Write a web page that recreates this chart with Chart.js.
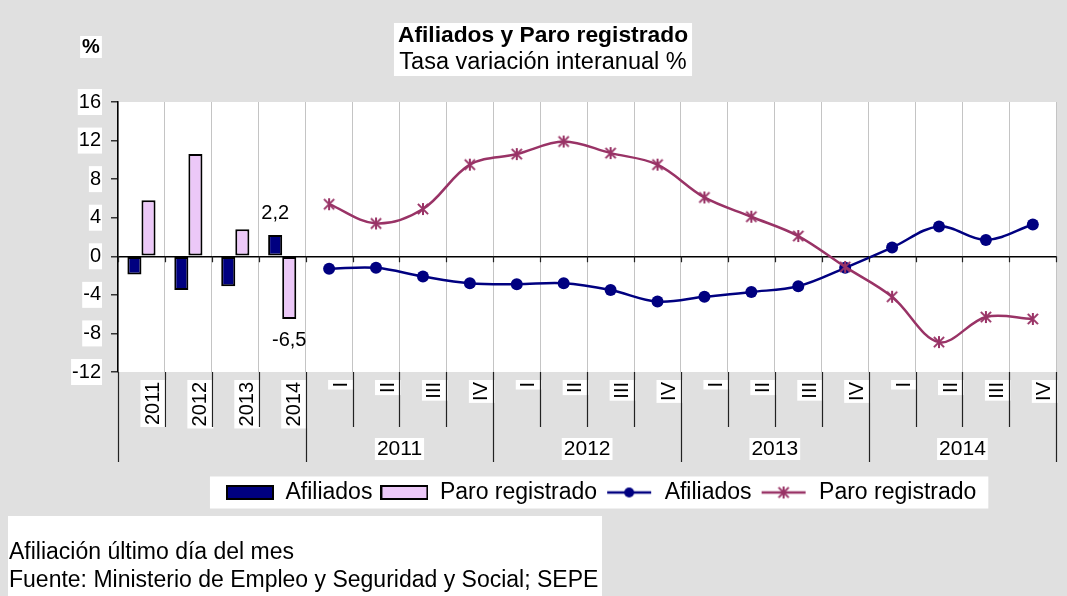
<!DOCTYPE html>
<html>
<head>
<meta charset="utf-8">
<script src="https://cdn.jsdelivr.net/npm/chart.js@4.4.0/dist/chart.umd.min.js"></script>
<style>
  html, body { margin: 0; padding: 0; background: #e0e0e0; }
  #wrap { width: 1067px; height: 596px; }
</style>
</head>
<body>
<div id="wrap"><canvas id="myChart" width="1067" height="596"></canvas></div>
<script>
// annual columns then the quarters of each year
const categories = ['2011', '2012', '2013', '2014',
  'I', 'II', 'III', 'IV', 'I', 'II', 'III', 'IV',
  'I', 'II', 'III', 'IV', 'I', 'II', 'III', 'IV'];
const quarterYears = ['2011', '2012', '2013', '2014'];

const annualAfiliados = [-1.9, -3.5, -3.1, 2.2];
const annualParo = [5.8, 10.6, 2.8, -6.5];

const quarterAfiliados = [-1.3, -1.2, -2.1, -2.8, -2.9, -2.8, -3.5, -4.7,
  -4.2, -3.7, -3.1, -1.2, 0.9, 3.1, 1.7, 3.3];
const quarterParo = [5.4, 3.4, 4.9, 9.5, 10.6, 11.9, 10.7, 9.5,
  6.1, 4.1, 2.1, -1.1, -4.2, -8.9, -6.3, -6.5];

const NAVY = '#000080';
const LILAC = '#ecc8f8';
const PLUM = '#993366';
const FONT = "'Liberation Sans', Arial, sans-serif";
Chart.defaults.font.family = FONT;
Chart.defaults.color = '#000';

const nAnnual = annualAfiliados.length;
const nQuarter = quarterAfiliados.length;
const pad = n => Array(n).fill(null);

// marker: asterisk (x plus vertical bar)
function starMarker(color, r) {
  const c = document.createElement('canvas');
  const s = Math.ceil(2 * r + 4);
  c.width = s; c.height = s;
  const g = c.getContext('2d');
  const m = s / 2, d = r * 0.85;
  g.strokeStyle = color; g.lineWidth = 2;
  g.beginPath();
  g.moveTo(m - d, m - d); g.lineTo(m + d, m + d);
  g.moveTo(m + d, m - d); g.lineTo(m - d, m + d);
  g.moveTo(m, m - r); g.lineTo(m, m + r);
  g.stroke();
  return c;
}

function boxIcon(fill) {
  const c = document.createElement('canvas');
  c.width = 48; c.height = 15;
  const g = c.getContext('2d');
  g.fillStyle = fill; g.fillRect(1, 1, 46, 13);
  g.strokeStyle = '#000'; g.lineWidth = 2; g.strokeRect(1, 1, 46, 13);
  return c;
}

function lineIcon(color, marker) {
  const c = document.createElement('canvas');
  c.width = 48; c.height = 16;
  const g = c.getContext('2d');
  g.strokeStyle = color; g.lineWidth = 2.5;
  g.beginPath(); g.moveTo(2, 8); g.lineTo(46, 8); g.stroke();
  if (marker === 'circle') {
    g.fillStyle = color;
    g.beginPath(); g.arc(24, 8, 5, 0, Math.PI * 2); g.fill();
  } else {
    g.drawImage(marker, 24 - marker.width / 2, 8 - marker.height / 2);
  }
  return c;
}

const star = starMarker(PLUM, 6);
const legendIcons = [boxIcon(NAVY), boxIcon(LILAC), lineIcon(NAVY, 'circle'), lineIcon(PLUM, star)];

function textBox(ctx, text, x, y, font, align) {
  ctx.font = font;
  ctx.textBaseline = 'middle';
  ctx.textAlign = align || 'center';
  const w = ctx.measureText(text).width;
  const left = align === 'left' ? x : x - w / 2;
  ctx.fillStyle = '#fff';
  ctx.fillRect(left - 2, y - 11, w + 4, 22);
  ctx.fillStyle = '#000';
  ctx.fillText(text, x, y);
}

const decor = {
  id: 'decor',
  afterLayout(chart) {
    chart.legend.left += 14;
    chart.legend.right += 14;
  },
  beforeDraw(chart) {
    const ctx = chart.ctx, a = chart.chartArea;
    ctx.save();
    ctx.fillStyle = '#fff';
    ctx.fillRect(a.left, a.top, a.right - a.left, a.bottom - a.top);

    // title block
    const tFont = 'bold 22.8px ' + FONT, sFont = '23.5px ' + FONT;
    ctx.font = tFont;
    const w1 = ctx.measureText('Afiliados y Paro registrado').width;
    ctx.font = sFont;
    const w2 = ctx.measureText('Tasa variación interanual %').width;
    const bw = Math.max(w1, w2) + 8;
    ctx.fillStyle = '#fff';
    ctx.fillRect(543 - bw / 2, 23, bw, 53);
    ctx.fillStyle = '#000';
    ctx.textAlign = 'center'; ctx.textBaseline = 'middle';
    ctx.font = tFont;
    ctx.fillText('Afiliados y Paro registrado', 543, 36);
    ctx.font = sFont;
    ctx.fillText('Tasa variación interanual %', 543, 63);

    textBox(ctx, '%', 91, 47, 'bold 20px ' + FONT);

    // legend background
    const hb = chart.legend.legendHitBoxes;
    if (hb && hb.length) {
      const l = Math.min(...hb.map(h => h.left)) - 16;
      const r = Math.max(...hb.map(h => h.left + h.width)) + 12;
      const cy = hb[0].top + hb[0].height / 2;
      ctx.fillStyle = '#fff';
      ctx.fillRect(l, cy - 16, r - l, 32);
    }

    // footnote
    ctx.fillStyle = '#fff';
    ctx.fillRect(8, 516, 594, 80);
    ctx.fillStyle = '#000';
    ctx.font = '23px ' + FONT;
    ctx.textAlign = 'left'; ctx.textBaseline = 'middle';
    ctx.fillText('Afiliación último día del mes', 9, 553);
    ctx.fillText('Fuente: Ministerio de Empleo y Seguridad y Social; SEPE', 9, 581);
    ctx.restore();
  },
  afterDraw(chart) {
    const ctx = chart.ctx, a = chart.chartArea;
    const xs = chart.scales.x, ys = chart.scales.y;
    const half = (xs.getPixelForValue(1) - xs.getPixelForValue(0)) / 2;
    const edge = i => i < categories.length ? xs.getPixelForValue(i) - half : xs.getPixelForValue(i - 1) + half;
    const y0 = ys.getPixelForValue(0);
    ctx.save();
    ctx.strokeStyle = '#222';
    ctx.lineWidth = 1.2;
    ctx.beginPath();
    for (let i = 0; i <= categories.length; i++) {
      const x = Math.round(edge(i)) + 0.5;
      const major = (i - nAnnual) % 4 === 0 || i === 0;
      ctx.moveTo(x, a.bottom);
      ctx.lineTo(x, a.bottom + (major ? 90 : 55));
      ctx.moveTo(x, y0);
      ctx.lineTo(x, y0 + 6);
    }
    ctx.stroke();

    // year group labels under the quarters
    quarterYears.forEach((yr, g) => {
      const c = (edge(nAnnual + 4 * g) + edge(nAnnual + 4 * g + 4)) / 2;
      textBox(ctx, yr, c, a.bottom + 77, '21px ' + FONT);
    });

    // value labels on the last annual column
    const i = nAnnual - 1;
    [annualAfiliados, annualParo].forEach((vals, d) => {
      const el = chart.getDatasetMeta(d).data[i];
      const v = vals[i];
      const y = v >= 0 ? el.y - 22 : el.y + 22;
      ctx.font = '20px ' + FONT;
      ctx.fillStyle = '#000';
      ctx.textAlign = 'center'; ctx.textBaseline = 'middle';
      ctx.fillText(String(v).replace('.', ','), el.x, y);
    });
    ctx.restore();
  }
};

const ctx = document.getElementById('myChart').getContext('2d');
new Chart(ctx, {
  type: 'bar',
  data: {
    labels: categories,
    datasets: [{
      label: 'Afiliados',
      data: annualAfiliados.concat(pad(nQuarter)),
      backgroundColor: NAVY,
      borderColor: '#000',
      borderWidth: 2,
      borderSkipped: false,
      barPercentage: 1,
      categoryPercentage: 0.6,
      order: 2
    }, {
      label: 'Paro registrado',
      data: annualParo.concat(pad(nQuarter)),
      backgroundColor: LILAC,
      borderColor: '#000',
      borderWidth: 2,
      borderSkipped: false,
      barPercentage: 1,
      categoryPercentage: 0.6,
      order: 2
    }, {
      type: 'line',
      label: 'Afiliados',
      data: pad(nAnnual).concat(quarterAfiliados),
      borderColor: NAVY,
      backgroundColor: NAVY,
      borderWidth: 2.5,
      tension: 0.35,
      pointStyle: 'circle',
      pointRadius: 6,
      pointBorderWidth: 0,
      order: 1
    }, {
      type: 'line',
      label: 'Paro registrado',
      data: pad(nAnnual).concat(quarterParo),
      borderColor: PLUM,
      backgroundColor: PLUM,
      borderWidth: 2.5,
      tension: 0.35,
      pointStyle: star,
      order: 0
    }]
  },
  options: {
    responsive: false,
    animation: false,
    devicePixelRatio: 1,
    layout: { padding: { left: 0, right: 7, top: 102, bottom: 82 } },
    plugins: {
      tooltip: { enabled: false },
      legend: {
        position: 'bottom',
        fullSize: false,
        labels: {
          usePointStyle: true,
          pointStyleWidth: 48,
          padding: 8,
          color: '#000',
          font: { size: 23 },
          sort: (p, q) => p.datasetIndex - q.datasetIndex,
          generateLabels(chart) {
            const items = Chart.defaults.plugins.legend.labels.generateLabels(chart);
            items.forEach(it => { it.pointStyle = legendIcons[it.datasetIndex]; });
            return items;
          }
        }
      }
    },
    scales: {
      x: {
        grid: { offset: true, color: '#c4c4c4', drawTicks: false },
        border: { display: false },
        ticks: {
          autoSkip: false, maxRotation: 90, minRotation: 90, padding: 10,
          color: '#000', font: { size: 20 },
          showLabelBackdrop: true, backdropColor: '#fff', backdropPadding: { x: 2, y: 1 }
        },
        afterFit(s) { s.height = 101; }
      },
      y: {
        min: -12, max: 16,
        ticks: {
          stepSize: 4, padding: 10, color: '#000', font: { size: 20 },
          showLabelBackdrop: true, backdropColor: '#fff', backdropPadding: { x: 1, y: 1 }
        },
        grid: {
          color: c => (c.tick && c.tick.value === 0 ? '#000' : 'rgba(0,0,0,0)'),
          tickColor: '#333', tickLength: 7, lineWidth: 1.5
        },
        border: { display: true, color: '#000', width: 1.5 },
        afterFit(s) { s.width = 118; }
      }
    }
  },
  plugins: [decor]
});
</script>
</body>
</html>
